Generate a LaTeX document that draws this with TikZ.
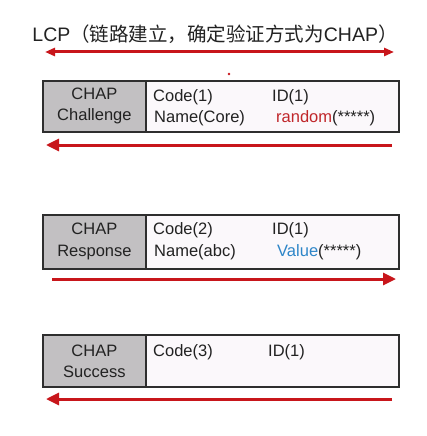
\documentclass[tikz,border=0pt]{standalone}
\usepackage{fontspec}
\setmainfont{Liberation Sans}
\newfontfamily\cjk{Noto Sans CJK SC}
\usetikzlibrary{arrows.meta}
\definecolor{arrred}{HTML}{C8161B}
\definecolor{cellgray}{HTML}{C2C0C2}
\definecolor{cellpale}{HTML}{FBF8FB}
\definecolor{edge}{HTML}{2E2E2E}
\definecolor{valblue}{HTML}{2E86C8}
\definecolor{randred}{HTML}{C0262A}
\definecolor{ink}{HTML}{222222}
\begin{document}
\begin{tikzpicture}[x=1pt,y=-1pt,
  redarrow/.style={draw=arrred,line width=3pt,-{Triangle[length=13pt,width=12pt]}},
  dblarrow/.style={draw=arrred,line width=3pt,{Triangle[length=10pt,width=8pt]}-{Triangle[length=10pt,width=8pt]}},
  headcell/.style={draw=edge,line width=1.8pt,fill=cellgray,minimum width=103pt,anchor=north west,inner sep=0pt},
  bodycell/.style={draw=edge,line width=1.8pt,fill=cellpale,minimum width=253pt,anchor=north west,inner sep=0pt},
  lbl/.style={font=\fontsize{16.5}{19}\selectfont,text=ink,inner sep=0pt},
  fld/.style={lbl,anchor=west}]
\useasboundingbox[fill=white] (0,0) rectangle (426,436);
% title
\node[inner sep=0pt,font=\fontsize{19.5}{22}\selectfont,text=ink] (title) at (215,34) {LCP{\cjk（链路建立，确定验证方式为}CHAP{\cjk）}};
\coordinate (t1) at (45,52);
\coordinate (t2) at (394,52);
\draw[dblarrow] (t1) -- (t2);
\fill[arrred] (229,74) circle (1.4pt);
% box 1
\node[bodycell,minimum height=51pt] (b1) at (145,80) {};
\node[headcell,minimum height=51pt] (h1) at (42,80) {};
\node[lbl,align=center,font=\fontsize{16.5}{21}\selectfont] (h1t) at (h1.center) {CHAP\\Challenge};
\node[fld] (c1) at (153,97) {Code(1)};
\node[fld] (i1) at (272,97) {ID(1)};
\node[fld] (n1) at (154,118) {Name(Core)};
\node[fld] (r1) at (276,118) {\textcolor{randred}{random}(*****)};
\coordinate (a1s) at (392,145);
\coordinate (a1e) at (46,145);
\draw[redarrow] (a1s) -- (a1e);
% box 2
\node[bodycell,minimum height=54pt] (b2) at (145,214) {};
\node[headcell,minimum height=54pt] (h2) at (42,214) {};
\node[lbl,align=center,font=\fontsize{16.5}{22}\selectfont] (h2t) at (h2.center) {CHAP\\Response};
\node[fld] (c2) at (153,230) {Code(2)};
\node[fld] (i2) at (272,230) {ID(1)};
\node[fld] (n2) at (154,252) {Name(abc)};
\node[fld] (r2) at (277,252) {\textcolor{valblue}{Value}(*****)};
\coordinate (a2s) at (52,279);
\coordinate (a2e) at (396,279);
\draw[redarrow] (a2s) -- (a2e);
% box 3
\node[bodycell,minimum height=52pt] (b3) at (145,334) {};
\node[headcell,minimum height=52pt] (h3) at (42,334) {};
\node[lbl,align=center,font=\fontsize{16.5}{21}\selectfont] (h3t) at (h3.center) {CHAP\\Success};
\node[fld] (c3) at (153,352) {Code(3)};
\node[fld] (i3) at (268,352) {ID(1)};
\coordinate (a3s) at (392,399);
\coordinate (a3e) at (46,399);
\draw[redarrow] (a3s) -- (a3e);
\end{tikzpicture}
\end{document}
